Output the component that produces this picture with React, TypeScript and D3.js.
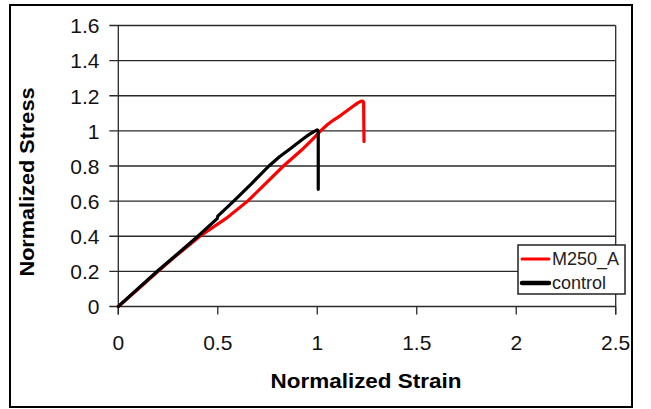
import React from "react";
import * as d3 from "d3";

const xTicks = [0, 0.5, 1, 1.5, 2, 2.5];
const xTickLabels = ["0", "0.5", "1", "1.5", "2", "2.5"];
const yTicks = [0, 0.2, 0.4, 0.6, 0.8, 1.0, 1.2, 1.4, 1.6];
const yTickLabels = ["0", "0.2", "0.4", "0.6", "0.8", "1", "1.2", "1.4", "1.6"];

const seriesNames = ["M250_A", "control"];
const seriesColors = ["#ff0000", "#000000"];

const m250Strain = [0, 0.1, 0.2, 0.3, 0.41, 0.54, 0.65, 0.74, 0.83, 0.93, 0.975, 1.017, 1.05, 1.084, 1.12, 1.151, 1.18, 1.202, 1.218, 1.228, 1.233, 1.235];
const m250Stress = [0, 0.1, 0.2, 0.298, 0.4, 0.5, 0.6, 0.7, 0.8, 0.9, 0.95, 1.0, 1.035, 1.063, 1.09, 1.116, 1.14, 1.158, 1.168, 1.17, 1.163, 0.94];

const controlStrain = [0, 0.1, 0.2, 0.3, 0.4, 0.497, 0.5, 0.58, 0.67, 0.757, 0.81, 0.866, 0.9, 0.933, 0.96, 0.983, 1.0, 1.005, 1.005];
const controlStress = [0, 0.103, 0.205, 0.302, 0.4, 0.5, 0.515, 0.6, 0.7, 0.8, 0.853, 0.9, 0.93, 0.958, 0.98, 0.996, 1.006, 1.0, 0.667];

const W = 651;
const H = 409;
const FONT = "Arial, 'Liberation Sans', sans-serif";

export default function App() {
  const x = d3.scaleLinear().domain([0, 2.5]).range([118.3, 615.7]);
  const y = d3.scaleLinear().domain([0, 1.6]).range([306.5, 25.5]);

  const line = d3
    .line<[number, number]>()
    .x((d) => x(d[0]))
    .y((d) => y(d[1]));

  const series = [
    m250Strain.map((v, i) => [v, m250Stress[i]] as [number, number]),
    controlStrain.map((v, i) => [v, controlStress[i]] as [number, number]),
  ];

  const [x0, x1] = x.range();
  const [yb, yt] = y.range();
  const gridColor = "#2a2a2a";

  return (
    <svg
      width={W}
      height={H}
      style={{ position: "absolute", left: 0, top: 0, background: "#fff" }}
    >
      <rect x={0} y={0} width={W} height={H} fill="#fff" />
      <rect x={10} y={5} width={622} height={402} fill="#fff" stroke="#000" strokeWidth={2} />

      {/* horizontal gridlines */}
      {yTicks.map((t) => (
        <line key={"g" + t} x1={x0 - 9} x2={x1} y1={y(t)} y2={y(t)} stroke={gridColor} strokeWidth={1.3} />
      ))}
      {/* axes / plot border */}
      <line x1={x0} x2={x0} y1={yt} y2={yb + 8} stroke={gridColor} strokeWidth={1.3} />
      <line x1={x1} x2={x1} y1={yt} y2={yb + 8} stroke={gridColor} strokeWidth={1.3} />
      {xTicks.map((t) => (
        <line key={"xt" + t} x1={x(t)} x2={x(t)} y1={yb} y2={yb + 8} stroke={gridColor} strokeWidth={1.3} />
      ))}

      {/* tick labels */}
      {yTicks.map((t, i) => (
        <text key={"yl" + t} x={99.5} y={y(t) + 7.8} textAnchor="end" fontFamily={FONT} fontSize={21} fill="#111">
          {yTickLabels[i]}
        </text>
      ))}
      {xTicks.map((t, i) => (
        <text key={"xl" + t} x={x(t)} y={350} textAnchor="middle" fontFamily={FONT} fontSize={21} fill="#111">
          {xTickLabels[i]}
        </text>
      ))}

      {/* axis titles */}
      <text
        x={366}
        y={387.5}
        textAnchor="middle"
        fontFamily={FONT}
        fontSize={20}
        fontWeight="bold"
        textLength={191}
        lengthAdjust="spacingAndGlyphs"
        fill="#000"
      >
        Normalized Strain
      </text>
      <text
        transform="translate(34,182) rotate(-90)"
        textAnchor="middle"
        fontFamily={FONT}
        fontSize={20}
        fontWeight="bold"
        textLength={189}
        lengthAdjust="spacingAndGlyphs"
        fill="#000"
      >
        Normalized Stress
      </text>

      {/* series */}
      {series.map((s, i) => (
        <path
          key={"s" + i}
          d={line(s) || ""}
          fill="none"
          stroke={seriesColors[i]}
          strokeWidth={3.2}
          strokeLinejoin="round"
          strokeLinecap="round"
        />
      ))}

      {/* legend */}
      <rect x={518} y={245} width={107} height={49} fill="#fff" stroke="#222" strokeWidth={1.5} />
      {seriesNames.map((n, i) => (
        <g key={"lg" + n}>
          <line
            x1={522}
            x2={549}
            y1={259 + i * 24}
            y2={259 + i * 24}
            stroke={seriesColors[i]}
            strokeWidth={i === 0 ? 3 : 4.5}
            strokeLinecap="round"
          />
          <text x={552} y={265 + i * 24} fontFamily={FONT} fontSize={18} fill="#222">
            {n}
          </text>
        </g>
      ))}
    </svg>
  );
}
